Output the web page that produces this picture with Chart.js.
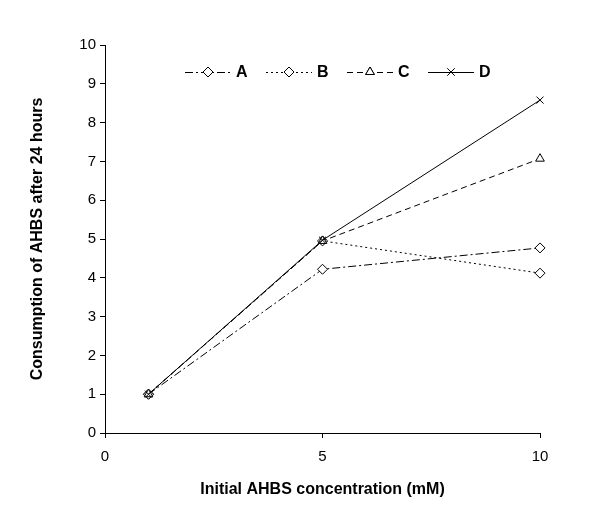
<!DOCTYPE html>
<html>
<head>
<meta charset="utf-8">
<script src="https://cdn.jsdelivr.net/npm/chart.js@4/dist/chart.umd.min.js"></script>
<style>
  html, body { margin: 0; padding: 0; background: #fff; }
  #wrap { width: 600px; height: 522px; }
</style>
</head>
<body>
<div id="wrap"><canvas id="lineChart" width="600" height="522"></canvas></div>
<script>
// chart values
const concentrations = [1, 5, 10];
const seriesA = [1, 4.22, 4.77];
const seriesB = [1, 4.95, 4.12];
const seriesC = [1, 4.95, 7.07];
const seriesD = [1, 4.97, 8.58];
const xTicks = [0, 5, 10];
const yTicks = [0, 1, 2, 3, 4, 5, 6, 7, 8, 9, 10];

const fontFamily = "'Liberation Sans', Arial, sans-serif";

function toPoints(values) {
  return concentrations.map((x, i) => ({ x: x, y: values[i] }));
}

function makeSeries(label, values, dash, pointStyle, order) {
  return {
    label: label,
    data: toPoints(values),
    borderColor: "#000",
    borderWidth: 1,
    borderDash: dash,
    backgroundColor: "#fff",
    pointStyle: pointStyle,
    pointRadius: 5,
    pointBorderColor: "#000",
    pointBackgroundColor: "#fff",
    pointBorderWidth: 1,
    fill: false,
    tension: 0,
    clip: false,
    order: order,
  };
}

const datasets = [
  makeSeries("A", seriesA, [8, 3, 2, 3], "rectRot", 3),
  makeSeries("B", seriesB, [2, 3], "rectRot", 2),
  makeSeries("C", seriesC, [6, 4], "triangle", 1),
  makeSeries("D", seriesD, [], "crossRot", 0),
];

// Legend drawn inside the plot, line sample with marker in the middle
const insideLegend = {
  id: "insideLegend",
  afterDraw(chart) {
    const ctx = chart.ctx;
    const area = chart.chartArea;
    const y = area.top + 27;
    let x = area.left + 80;
    chart.data.datasets.forEach((ds) => {
      ctx.save();
      ctx.strokeStyle = "#000";
      ctx.lineWidth = 1;
      ctx.setLineDash(ds.borderDash);
      ctx.beginPath();
      ctx.moveTo(x, y + 0.5);
      ctx.lineTo(x + 46, y + 0.5);
      ctx.stroke();
      ctx.setLineDash([]);
      ctx.fillStyle = "#fff";
      Chart.helpers.drawPoint(ctx, {
        pointStyle: ds.pointStyle,
        radius: 5,
        rotation: 0,
        borderWidth: 1,
      }, x + 23, y);
      ctx.fill();
      ctx.stroke();
      ctx.fillStyle = "#000";
      ctx.font = "bold 16px " + fontFamily;
      ctx.textBaseline = "middle";
      ctx.textAlign = "left";
      ctx.fillText(ds.label, x + 51, y + 1);
      ctx.restore();
      x += 81;
    });
  },
};

const canvas = document.getElementById("lineChart");

const chart = new Chart(canvas, {
  type: "line",
  data: { datasets: datasets },
  options: {
    responsive: false,
    animation: false,
    layout: { padding: { top: 45, right: 60, left: 25, bottom: 20 } },
    plugins: {
      legend: { display: false },
      tooltip: { enabled: false },
    },
    scales: {
      x: {
        type: "linear",
        min: 0,
        max: 10,
        afterBuildTicks: (axis) => { axis.ticks = xTicks.map((v) => ({ value: v })); },
        afterFit: (axis) => { axis.height = 69; },
        grid: {
          drawOnChartArea: false,
          color: "#000",
          tickLength: 5,
        },
        border: { color: "#000", width: 1 },
        ticks: {
          color: "#000",
          font: { family: fontFamily, size: 15 },
          padding: 10,
        },
        title: {
          display: true,
          text: "Initial AHBS concentration (mM)",
          color: "#000",
          font: { family: fontFamily, size: 16, weight: "bold" },
          padding: { top: 0, bottom: 3 },
        },
      },
      y: {
        min: 0,
        max: 10,
        afterBuildTicks: (axis) => { axis.ticks = yTicks.map((v) => ({ value: v })); },
        afterFit: (axis) => { axis.width = 80; },
        grid: {
          drawOnChartArea: false,
          color: "#000",
          tickLength: 5,
        },
        border: { color: "#000", width: 1 },
        ticks: {
          color: "#000",
          font: { family: fontFamily, size: 15 },
          padding: 4,
        },
        title: {
          display: true,
          text: "Consumption of AHBS after 24 hours",
          color: "#000",
          font: { family: fontFamily, size: 16, weight: "bold" },
          padding: { top: 3, bottom: 0 },
        },
      },
    },
  },
  plugins: [insideLegend],
});
</script>
</body>
</html>
